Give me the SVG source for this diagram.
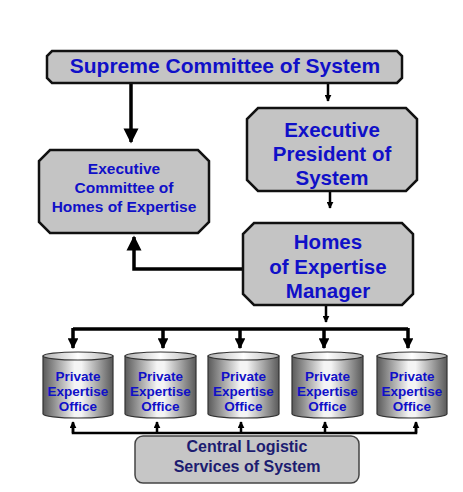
<svg xmlns="http://www.w3.org/2000/svg" width="463" height="492" viewBox="0 0 463 492">
<style>
.box{fill:#c4c4c4;stroke:#111;stroke-width:2.5}
.t{font-family:"Liberation Sans",Arial,sans-serif;font-weight:bold;fill:#1010c8;text-anchor:middle}
.cyl{stroke:#333;stroke-width:1.2}
.ln{stroke:#000;stroke-width:3.5;fill:none}
.ln2{stroke:#000;stroke-width:2.5;fill:none}
.ct{font-family:"Liberation Sans",Arial,sans-serif;font-weight:bold;fill:#1c1c70;text-anchor:middle;font-size:16px}
.pt{font-family:"Liberation Sans",Arial,sans-serif;font-weight:bold;fill:#1010c8;text-anchor:middle;font-size:13.5px}
</style>
<defs>
<linearGradient id="g" x1="0" x2="1" y1="0" y2="0">
<stop offset="0" stop-color="#5a5a5a"/>
<stop offset="0.45" stop-color="#f4f4f4"/>
<stop offset="0.55" stop-color="#f4f4f4"/>
<stop offset="1" stop-color="#5a5a5a"/>
</linearGradient>
<linearGradient id="gt" x1="0" x2="1" y1="0" y2="0">
<stop offset="0" stop-color="#b0b0b0"/>
<stop offset="0.5" stop-color="#ffffff"/>
<stop offset="1" stop-color="#b0b0b0"/>
</linearGradient>
<marker id="ahb" viewBox="0 0 10 10" refX="9" refY="5" markerWidth="4.3" markerHeight="4.3" orient="auto" markerUnits="strokeWidth">
<path d="M0,0 L10,5 L0,10 z" fill="#000"/>
</marker>
<marker id="ah" viewBox="0 0 10 10" refX="9" refY="5" markerWidth="3.1" markerHeight="3.1" orient="auto" markerUnits="strokeWidth">
<path d="M0,0 L10,5 L0,10 z" fill="#000"/>
</marker>
<marker id="ahs" viewBox="0 0 10 10" refX="9" refY="5" markerWidth="2.8" markerHeight="2.8" orient="auto" markerUnits="strokeWidth">
<path d="M0,0 L10,5 L0,10 z" fill="#000"/>
</marker>
</defs>
<rect width="463" height="492" fill="#fff"/>

<g id="connectors">
<line class="ln" x1="131" y1="83" x2="131" y2="142" marker-end="url(#ahb)"/>
<line class="ln2" x1="328" y1="84" x2="328" y2="101" marker-end="url(#ahs)"/>
<line class="ln2" x1="330" y1="191" x2="330" y2="208" marker-end="url(#ahs)"/>
<polyline class="ln" points="243,269 134,269 134,237" marker-end="url(#ahb)"/>
<line class="ln2" x1="326" y1="305" x2="326" y2="322" marker-end="url(#ahs)"/>
<line class="ln" x1="73" y1="329" x2="408" y2="329"/>
<line class="ln" x1="73" y1="328" x2="73" y2="348" marker-end="url(#ah)"/>
<line class="ln" x1="163" y1="328" x2="163" y2="348" marker-end="url(#ah)"/>
<line class="ln" x1="240" y1="328" x2="240" y2="348" marker-end="url(#ah)"/>
<line class="ln" x1="324" y1="328" x2="324" y2="348" marker-end="url(#ah)"/>
<line class="ln" x1="408" y1="328" x2="408" y2="348" marker-end="url(#ah)"/>
<polyline class="ln2" points="73,423 73,433 416,433 416,423"/>
<line class="ln2" x1="73" y1="433" x2="73" y2="422" marker-end="url(#ahs)"/>
<line class="ln2" x1="157" y1="433" x2="157" y2="422" marker-end="url(#ahs)"/>
<line class="ln2" x1="241" y1="433" x2="241" y2="422" marker-end="url(#ahs)"/>
<line class="ln2" x1="325" y1="433" x2="325" y2="422" marker-end="url(#ahs)"/>
<line class="ln2" x1="416" y1="433" x2="416" y2="422" marker-end="url(#ahs)"/>
</g>

<g id="supreme">
<polygon class="box" points="52,51 397,51 402,56 402,78 397,83 52,83 47,78 47,56"/>
<text class="t" x="225" y="73" font-size="21">Supreme Committee of System</text>
</g>

<g id="president">
<polygon class="box" points="258,108 406,108 417,119 417,180 406,191 258,191 247,180 247,119"/>
<text class="t" x="332" y="137" font-size="20.5">Executive</text>
<text class="t" x="332" y="161" font-size="20.5">President of</text>
<text class="t" x="332" y="185" font-size="20.5">System</text>
</g>

<g id="committee">
<polygon class="box" points="50,150 198,150 209,161 209,222 198,233 50,233 39,222 39,161"/>
<text class="t" x="124" y="174" font-size="15.5">Executive</text>
<text class="t" x="124" y="193" font-size="15.5">Committee of</text>
<text class="t" x="124" y="212" font-size="15.5">Homes of Expertise</text>
</g>

<g id="manager">
<polygon class="box" points="254,223 402,223 413,234 413,294 402,305 254,305 243,294 243,234"/>
<text class="t" x="328" y="249" font-size="20.5">Homes</text>
<text class="t" x="328" y="274" font-size="20.5">of Expertise</text>
<text class="t" x="328" y="298" font-size="20.5">Manager</text>
</g>

<g id="office1">
<path class="cyl" d="M43,356 L43,414 A35,4 0 0 0 113,414 L113,356 Z" fill="url(#g)"/>
<ellipse class="cyl" cx="78" cy="356" rx="35" ry="4" fill="url(#gt)"/>
<text class="pt" x="78" y="381">Private</text>
<text class="pt" x="78" y="396">Expertise</text>
<text class="pt" x="78" y="411">Office</text>
</g>
<g id="office2">
<path class="cyl" d="M125,356 L125,414 A35.5,4 0 0 0 196,414 L196,356 Z" fill="url(#g)"/>
<ellipse class="cyl" cx="160.5" cy="356" rx="35.5" ry="4" fill="url(#gt)"/>
<text class="pt" x="160.5" y="381">Private</text>
<text class="pt" x="160.5" y="396">Expertise</text>
<text class="pt" x="160.5" y="411">Office</text>
</g>
<g id="office3">
<path class="cyl" d="M208,356 L208,414 A35.5,4 0 0 0 279,414 L279,356 Z" fill="url(#g)"/>
<ellipse class="cyl" cx="243.5" cy="356" rx="35.5" ry="4" fill="url(#gt)"/>
<text class="pt" x="243.5" y="381">Private</text>
<text class="pt" x="243.5" y="396">Expertise</text>
<text class="pt" x="243.5" y="411">Office</text>
</g>
<g id="office4">
<path class="cyl" d="M292,356 L292,414 A35.5,4 0 0 0 363,414 L363,356 Z" fill="url(#g)"/>
<ellipse class="cyl" cx="327.5" cy="356" rx="35.5" ry="4" fill="url(#gt)"/>
<text class="pt" x="327.5" y="381">Private</text>
<text class="pt" x="327.5" y="396">Expertise</text>
<text class="pt" x="327.5" y="411">Office</text>
</g>
<g id="office5">
<path class="cyl" d="M377,356 L377,414 A35,4 0 0 0 447,414 L447,356 Z" fill="url(#g)"/>
<ellipse class="cyl" cx="412" cy="356" rx="35" ry="4" fill="url(#gt)"/>
<text class="pt" x="412" y="381">Private</text>
<text class="pt" x="412" y="396">Expertise</text>
<text class="pt" x="412" y="411">Office</text>
</g>

<g id="central">
<rect x="135" y="436" width="224" height="47" rx="8" fill="#c6c6c6" stroke="#444" stroke-width="1.5"/>
<text class="ct" x="247" y="452">Central Logistic</text>
<text class="ct" x="247" y="472">Services of System</text>
</g>
</svg>
